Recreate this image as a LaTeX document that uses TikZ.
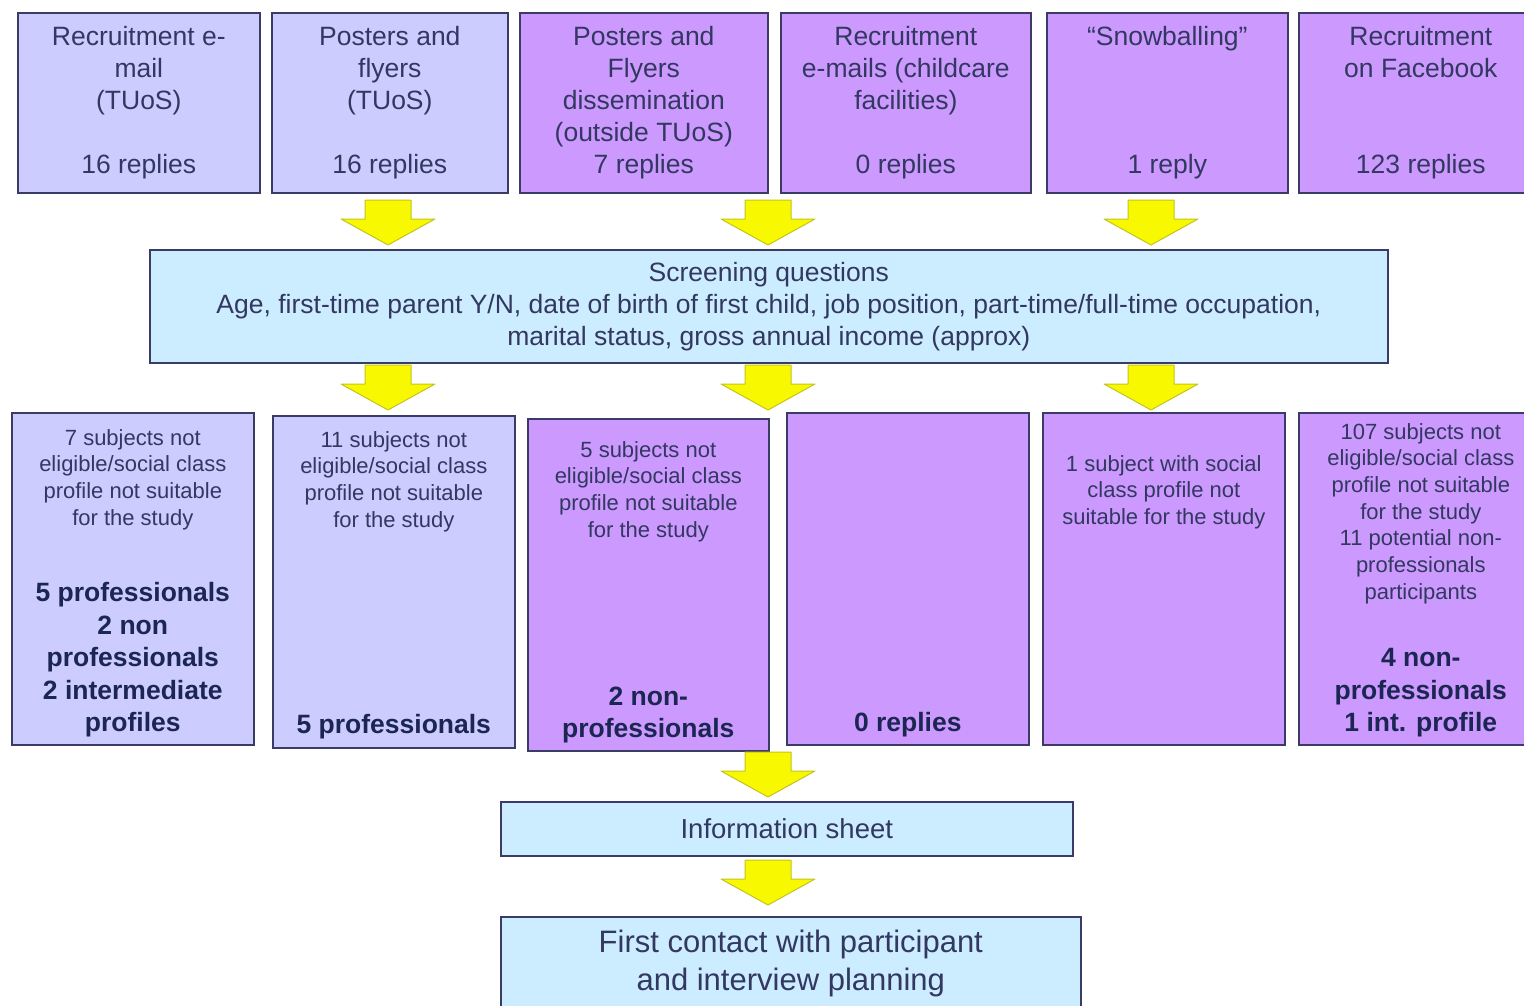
\documentclass[tikz,border=0pt]{standalone}
\usepackage{fontspec}
\setmainfont{Liberation Sans}
\usetikzlibrary{positioning}

\definecolor{lavender}{RGB}{204,204,255}
\definecolor{lilac}{RGB}{204,153,255}
\definecolor{paleblue}{RGB}{204,236,255}
\definecolor{edge}{RGB}{58,60,102}
\definecolor{ink}{RGB}{50,56,96}
\definecolor{darkink}{RGB}{28,38,82}
\definecolor{arrowfill}{RGB}{248,248,0}
\definecolor{arrowedge}{RGB}{196,196,30}

\begin{document}
\begin{tikzpicture}[
    x=1pt, y=-1pt,
    box/.style={draw=edge, line width=1.6pt, anchor=north west, align=center, text=ink, inner sep=0pt},
    src/.style={box, minimum height=180pt, font=\fontsize{26.5}{32}\selectfont},
    res/.style={box, minimum height=332pt, minimum width=242pt},
    note/.style={align=center, text=ink, inner sep=0pt, font=\fontsize{22}{26.7}\selectfont},
    tally/.style={align=center, text=darkink, inner sep=0pt, font=\fontsize{26.5}{32.5}\selectfont\bfseries},
    stage/.style={box, fill=paleblue},
  ]

  \useasboundingbox (0,0) rectangle (1524,1005);

  % yellow block arrow: centre x, top y
  \newcommand{\yarrow}[2]{%
    \filldraw[fill=arrowfill, draw=arrowedge, line width=1pt, line join=round]
      (#1-23,#2) -- (#1+23,#2) -- (#1+23,#2+19) -- (#1+47,#2+19)
      -- (#1,#2+45) -- (#1-47,#2+19) -- (#1-23,#2+19) -- cycle;
  }

  % --- recruitment channels ---
  \node[src, fill=lavender, minimum width=242pt] (s1) at (17,12)
    {Recruitment e-\\mail\\(TUoS)\\[32pt]16 replies};
  \node[src, fill=lavender, minimum width=236pt] (s2) at (271,12)
    {Posters and\\flyers\\(TUoS)\\[32pt]16 replies};
  \node[src, fill=lilac, minimum width=248pt] (s3) at (519,12)
    {Posters and\\Flyers\\dissemination\\(outside TUoS)\\7 replies};
  \node[src, fill=lilac, minimum width=250pt] (s4) at (780,12)
    {Recruitment\\e-mails (childcare\\facilities)\\[32pt]0 replies};
  \node[src, fill=lilac, minimum width=241pt] (s5) at (1046,12)
    {``Snowballing''\\[96pt]1 reply};
  \node[src, fill=lilac, minimum width=244pt] (s6) at (1298,12)
    {Recruitment\\on Facebook\\[64pt]123 replies};

  \yarrow{388}{200}
  \yarrow{768}{200}
  \yarrow{1151}{200}

  % --- screening ---
  \node[stage, minimum width=1238pt, minimum height=113pt,
        font=\fontsize{26.5}{32}\selectfont] (screen) at (149,249)
    {Screening questions\\
     Age, first-time parent Y/N, date of birth of first child, job position, part-time/full-time occupation,\\
     marital status, gross annual income (approx)};

  \yarrow{388}{365}
  \yarrow{768}{365}
  \yarrow{1151}{365}

  % --- outcomes per channel ---
  \node[res, fill=lavender] (r1) at (11,412) {};
  \node[note, below=17pt of r1.north] (n1)
    {7 subjects not\\eligible/social class\\profile not suitable\\for the study};
  \node[tally, above=8pt of r1.south] (c1)
    {5 professionals\\2 non\\professionals\\2 intermediate\\profiles};

  \node[res, fill=lavender] (r2) at (272,415) {};
  \node[note, below=16pt of r2.north] (n2)
    {11 subjects not\\eligible/social class\\profile not suitable\\for the study};
  \node[tally, above=9pt of r2.south] (c2) {5 professionals};

  \node[res, fill=lilac, minimum width=241pt] (r3) at (527,418) {};
  \node[note, below=23pt of r3.north] (n3)
    {5 subjects not\\eligible/social class\\profile not suitable\\for the study};
  \node[tally, above=8pt of r3.south] (c3) {2 non-\\professionals};

  \node[res, fill=lilac] (r4) at (786,412) {};
  \node[tally, above=8pt of r4.south] (c4) {0 replies};

  \node[res, fill=lilac] (r5) at (1042,412) {};
  \node[note, below=43pt of r5.north] (n5)
    {1 subject with social\\class profile not\\suitable for the study};

  \node[res, fill=lilac, minimum width=244pt] (r6) at (1298,412) {};
  \node[note, below=11pt of r6.north] (n6)
    {107 subjects not\\eligible/social class\\profile not suitable\\for the study\\11 potential non-\\professionals\\participants};
  \node[tally, above=8pt of r6.south] (c6) {4 non-\\professionals\\1 int. profile};

  \yarrow{768}{752}

  % --- follow-up ---
  \node[stage, minimum width=572pt, minimum height=54pt,
        font=\fontsize{27.5}{33}\selectfont] (info) at (500,801) {Information sheet};

  \yarrow{768}{860}

  \node[stage, minimum width=580pt, minimum height=94pt,
        font=\fontsize{31}{38}\selectfont] (contact) at (500,916)
    {First contact with participant\\and interview planning};

\end{tikzpicture}
\end{document}
